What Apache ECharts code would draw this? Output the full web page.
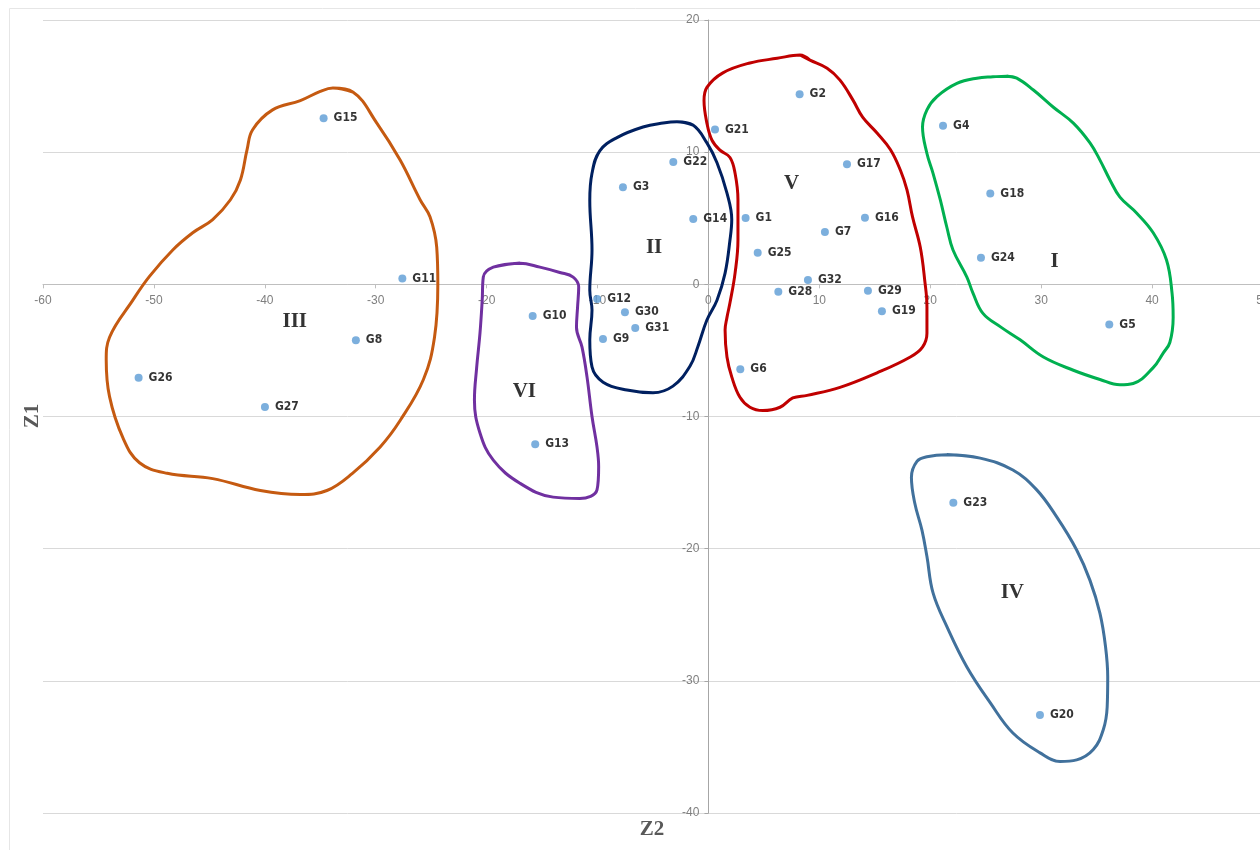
<!DOCTYPE html>
<html>
<head>
<meta charset="utf-8">
<script src="https://cdn.jsdelivr.net/npm/echarts@6/dist/echarts.min.js"></script>
<style>
html, body { margin: 0; padding: 0; background: #fff; }
#main { width: 1260px; height: 850px; }
</style>
</head>
<body>
<div id="main"></div>
<script>
// genotypes: Z2 (horizontal) and Z1 (vertical) scores
var pointNames = ['G1', 'G2', 'G3', 'G4', 'G5', 'G6', 'G7', 'G8', 'G9', 'G10',
    'G11', 'G12', 'G13', 'G14', 'G15', 'G16', 'G17', 'G18', 'G19', 'G20',
    'G21', 'G22', 'G23', 'G24', 'G25', 'G26', 'G27', 'G28', 'G29', 'G30',
    'G31', 'G32'];
var pointZ2 = [3.35, 8.22, -7.71, 21.15, 36.14, 2.87, 10.5, -31.79, -9.51, -15.85,
    -27.6, -10.03, -15.62, -1.37, -34.7, 14.11, 12.49, 25.41, 15.64, 29.89,
    0.59, -3.17, 22.08, 24.57, 4.44, -51.38, -39.99, 6.3, 14.38, -7.53,
    -6.6, 8.97];
var pointZ1 = [5.02, 14.39, 7.34, 12.0, -3.03, -6.43, 3.96, -4.24, -4.14, -2.4,
    0.45, -1.11, -12.1, 4.94, 12.56, 5.04, 9.08, 6.88, -2.04, -32.58,
    11.72, 9.25, -16.52, 2.01, 2.39, -7.06, -9.28, -0.56, -0.48, -2.12,
    -3.31, 0.33];

// cluster names and label positions
var clusterNames = ['I', 'II', 'III', 'IV', 'V', 'VI'];
var clusterLabelZ2 = [31.2, -4.9, -37.3, 27.4, 7.5, -16.6];
var clusterLabelZ1 = [1.7, 2.75, -2.8, -23.3, 7.6, -8.1];
var clusterColors = ['#00b050', '#002060', '#c55a11', '#41719c', '#c00000', '#7030a0'];

// hand-drawn cluster outlines, [Z2, Z1]
var outlineI = [[26.9, 15.75], [27.8, 15.6], [29.3, 14.7], [31.1, 13.4], [32.9, 12.2],
    [34.4, 10.7], [35.3, 9.4], [36.2, 7.9], [37.1, 6.6], [38.6, 5.4], [40.1, 3.9],
    [41.3, 1.84], [41.8, -0.66], [41.9, -2.5], [41.6, -4.4], [41.0, -5.2], [40.1, -6.3],
    [38.3, -7.5], [37.1, -7.6], [35.3, -7.2], [32.9, -6.5], [30.2, -5.5], [28.1, -4.2],
    [26.3, -3.2], [24.75, -2.2], [23.85, -0.66], [23.3, 0.55], [22.05, 2.6], [21.5, 4.3],
    [20.9, 6.4], [20.25, 8.4], [19.7, 9.9], [19.3, 11.9], [19.7, 13.2], [20.6, 14.2],
    [22.4, 15.2], [24.2, 15.6], [25.65, 15.7]];
var outlineII = [[-2.84, 12.3], [-1.4, 12.05], [-0.14, 10.7], [0.77, 9.2], [1.67, 6.9],
    [2.1, 4.9], [1.94, 3.35], [1.5, 0.85], [0.77, -1.2], [-0.14, -2.7], [-0.95, -4.7],
    [-1.67, -6.2], [-3.2, -7.7], [-5.0, -8.2], [-7.35, -8.0], [-9.5, -7.4], [-10.5, -6.25],
    [-10.7, -4.2], [-10.5, -1.95], [-10.7, -0.45], [-10.5, 2.6], [-10.7, 6.35], [-10.5, 8.4],
    [-9.8, 10.1], [-8.25, 11.1], [-5.9, 11.9], [-4.1, 12.2]];
var outlineIII = [[-33.86, 14.85], [-32.06, 14.55], [-29.9, 12.2], [-27.8, 9.4], [-26.0, 6.4],
    [-25.1, 5.1], [-24.5, 2.8], [-24.4, 0.0], [-24.7, -4.0], [-25.7, -7.2], [-27.8, -10.3],
    [-29.6, -12.3], [-32.1, -14.3], [-34.4, -15.6], [-36.8, -15.9], [-40.4, -15.6],
    [-44.7, -14.7], [-48.8, -14.3], [-51.3, -13.5], [-52.8, -11.6], [-54.0, -8.5],
    [-54.3, -5.7], [-54.0, -4.0], [-51.9, -1.2], [-50.4, 0.6], [-48.3, 2.6], [-46.5, 3.9],
    [-44.7, 4.9], [-43.1, 6.4], [-42.2, 7.9], [-41.6, 10.2], [-41.1, 11.7], [-39.3, 13.2],
    [-36.8, 13.9], [-35.0, 14.6]];
var outlineIV = [[21.5, -12.9], [24.5, -13.15], [27.45, -14.05], [29.6, -15.55], [31.4, -17.6],
    [33.2, -20.1], [34.4, -22.4], [35.3, -24.9], [35.8, -27.4], [36.0, -29.7], [35.95, -31.98],
    [35.6, -33.7], [34.7, -35.2], [33.2, -35.98], [31.7, -36.1], [29.9, -35.45], [27.45, -33.95],
    [25.4, -31.65], [23.3, -28.95], [21.5, -25.9], [20.25, -23.35], [19.7, -20.6], [19.25, -18.6],
    [18.6, -16.55], [18.3, -14.6], [18.8, -13.4], [19.7, -13.05]];
var outlineV = [[8.25, 17.35], [9.15, 16.96], [10.7, 16.35], [11.86, 15.45], [13.03, 13.94],
    [13.9, 12.65], [15.2, 11.45], [16.4, 10.2], [17.3, 8.65], [17.9, 7.14], [18.4, 5.1],
    [19.1, 2.8], [19.5, 0.3], [19.7, -1.7], [19.7, -3.7], [19.3, -4.75], [18.2, -5.5],
    [15.2, -6.7], [11.86, -7.8], [8.9, -8.4], [7.6, -8.6], [6.45, -9.3], [4.9, -9.55],
    [3.74, -9.3], [2.84, -8.55], [2.1, -7.0], [1.67, -5.5], [1.5, -3.45], [1.67, -2.5],
    [1.94, -1.4], [2.4, 0.85], [2.66, 3.35], [2.66, 6.4], [2.4, 8.4], [1.94, 9.6],
    [1.04, 10.15], [0.32, 10.9], [-0.14, 12.2], [-0.4, 13.9], [-0.14, 14.9], [1.3, 16.0],
    [3.74, 16.75], [6.2, 17.1]];
var outlineVI = [[-17.0, 1.6], [-19.4, 1.3], [-20.3, 0.55], [-20.4, -1.2], [-20.6, -3.7],
    [-20.9, -6.3], [-21.1, -8.75], [-20.6, -11.25], [-19.4, -13.3], [-17.0, -15.05],
    [-14.0, -16.1], [-11.6, -16.2], [-10.05, -15.55], [-9.9, -13.8], [-10.05, -12.3],
    [-10.5, -10.0], [-10.95, -7.0], [-11.4, -4.75], [-11.9, -3.25], [-11.8, -1.7],
    [-11.7, -0.2], [-12.2, 0.55], [-13.4, 0.9], [-15.2, 1.3]];
var outlines = [outlineI, outlineII, outlineIII, outlineIV, outlineV, outlineVI];

var tickFont = "'Liberation Sans', sans-serif";
var labelFont = "'DejaVu Sans Condensed', 'DejaVu Sans', sans-serif";
var serifFont = "'Liberation Serif', 'DejaVu Serif', serif";

// plot box, in pixels
var gridLeft = 43, gridTop = 20, gridWidth = 1220, gridHeight = 793;
var xMin = -60, xMax = 50, yMin = -40, yMax = 20;
// axes cross at zero: shift them from the grid edges
var xAxisOffset = -gridHeight * (0 - yMin) / (yMax - yMin);
var yAxisOffset = -gridWidth * (0 - xMin) / (xMax - xMin);

var chart = echarts.init(document.getElementById('main'), null, { renderer: 'canvas' });

var series = [];
outlines.forEach(function (pts, i) {
    series.push({
        type: 'line',
        name: clusterNames[i],
        data: pts.concat([pts[0], pts[1]]),
        smooth: 0.4,
        symbol: 'none',
        silent: true,
        lineStyle: { color: clusterColors[i], width: 3 },
        z: 2
    });
});

series.push({
    type: 'scatter',
    name: 'genotypes',
    symbolSize: 8,
    itemStyle: { color: '#5b9bd5' },
    data: pointNames.map(function (n, i) {
        return { name: n, value: [pointZ2[i], pointZ1[i]] };
    }),
    label: {
        show: true,
        position: 'right',
        distance: 6,
        formatter: '{b}',
        color: '#000',
        fontFamily: labelFont,
        fontWeight: 'bold',
        fontSize: 12
    },
    z: 3
});

series.push({
    type: 'scatter',
    name: 'clusters',
    symbolSize: 1,
    itemStyle: { color: 'rgba(0,0,0,0)' },
    data: clusterNames.map(function (n, i) {
        return { name: n, value: [clusterLabelZ2[i], clusterLabelZ1[i]] };
    }),
    label: {
        show: true,
        position: 'inside',
        formatter: '{b}',
        color: '#000',
        fontFamily: serifFont,
        fontWeight: 'bold',
        fontSize: 21
    },
    z: 4
});

var option = {
    backgroundColor: '#fff',
    animation: false,
    grid: {
        left: gridLeft, top: gridTop, width: gridWidth, height: gridHeight,
        containLabel: false, outerBoundsMode: 'none'
    },
    xAxis: {
        type: 'value',
        min: xMin,
        max: xMax,
        interval: 10,
        position: 'bottom',
        offset: xAxisOffset,
        axisLine: { onZero: false, lineStyle: { color: '#bfbfbf' } },
        axisTick: { show: true, length: 4, lineStyle: { color: '#bfbfbf' } },
        axisLabel: { color: '#7f7f7f', fontFamily: tickFont, fontSize: 12, margin: 10 },
        splitLine: { show: false }
    },
    yAxis: {
        type: 'value',
        min: yMin,
        max: yMax,
        interval: 10,
        position: 'left',
        offset: yAxisOffset,
        axisLine: { show: true, onZero: false, lineStyle: { color: '#a6a6a6' } },
        axisTick: { show: true, length: 4, lineStyle: { color: '#a6a6a6' } },
        axisLabel: { color: '#7f7f7f', fontFamily: tickFont, fontSize: 12, margin: 9 },
        splitLine: { show: true, lineStyle: { color: '#d9d9d9' } }
    },
    graphic: [
        {
            type: 'rect',
            shape: { x: 9.5, y: 8.5, width: 1300, height: 900 },
            style: { fill: 'none', stroke: '#e6e6e6', lineWidth: 1 },
            silent: true
        },
        {
            type: 'text',
            x: 652,
            y: 830,
            style: {
                text: 'Z2', fill: '#595959', font: 'bold 21px ' + serifFont,
                align: 'center', verticalAlign: 'middle'
            }
        },
        {
            type: 'text',
            x: 33,
            y: 416,
            rotation: Math.PI / 2,
            style: {
                text: 'Z1', fill: '#595959', font: 'bold 21px ' + serifFont,
                align: 'center', verticalAlign: 'middle'
            }
        }
    ],
    series: series
};

chart.setOption(option);
</script>
</body>
</html>
